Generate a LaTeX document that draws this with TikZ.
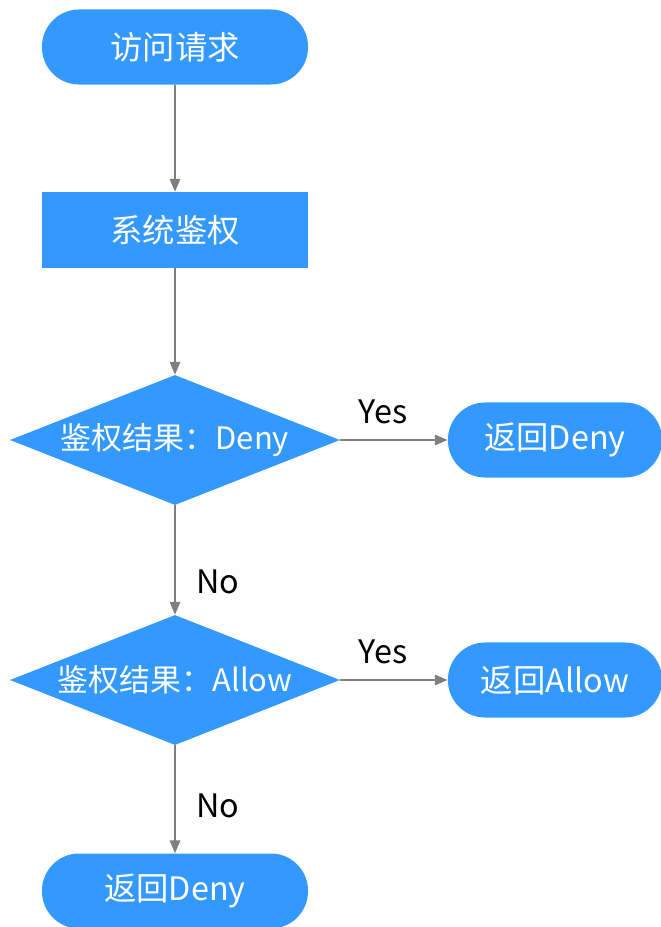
\documentclass[tikz,border=0pt]{standalone}
\usepackage{fontspec}
\setmainfont{Noto Sans CJK SC}
\usetikzlibrary{arrows.meta,positioning,shapes.geometric}
\definecolor{flowblue}{HTML}{3399FF}
\definecolor{flowgray}{HTML}{7F7F7F}
\tikzset{
terminal/.style={
  rectangle,
  rounded corners=0.93cm,
  fill=flowblue,
  inner sep=0pt,
  minimum width=6.65cm,
  minimum height=1.875cm,
  text=white,
  font=\fontsize{23}{27}\selectfont,
  }
}
\tikzset{
process/.style={
  rectangle,
  fill=flowblue,
  inner sep=0pt,
  minimum width=6.65cm,
  minimum height=1.9cm,
  text=white,
  font=\fontsize{23}{27}\selectfont,
  }
}
\tikzset{
decision/.style={
  diamond,
  fill=flowblue,
  inner sep=0pt,
  minimum width=8.25cm,
  minimum height=3.25cm,
  }
}
\tikzset{
dectext/.style={
  text=white,
  font=\fontsize{22}{26}\selectfont,
  }
}
\tikzset{
flowline/.style={
  line width=1.3pt,
  draw=flowgray,
  -{Triangle[length=0.32cm,width=0.26cm]}
  }
}
\tikzset{
flowlabel/.style={
  text=black,
  font=\fontsize{23}{27}\selectfont,
  }
}

\begin{document}
\begin{tikzpicture}[x=0.025cm,y=-0.025cm]
    \useasboundingbox (0,0) rectangle (661,927);

    % main column
    \node[terminal] (req) at (175,47) {访问请求};
    \node[process] (auth) at (175,230) {系统鉴权};
    \node[decision] (deny) at (175,440) {};
    \node[dectext] (denytxt) at (deny.center) {鉴权结果：Deny};
    \node[decision] (allow) at (175,680) {};
    \node[dectext] (allowtxt) at (allow.center) {鉴权结果：Allow};
    \node[terminal] (retdeny) at (175,891) {返回Deny};

    % right column
    \node[terminal, minimum width=5.35cm] (retdenyr) at (555,440) {返回Deny};
    \node[terminal, minimum width=5.35cm] (retallow) at (555,680) {返回Allow};

    % edges
    \draw[flowline] (req) -- (auth);
    \draw[flowline] (auth) -- (deny);
    \draw[flowline] (deny) -- node[flowlabel, right=0.4cm, pos=0.7] {No} (allow);
    \draw[flowline] (allow) -- node[flowlabel, right=0.4cm, pos=0.56] {No} (retdeny);
    \draw[flowline] (deny.east) -- node[flowlabel, above=0.25cm, pos=0.4] {Yes} (retdenyr.west);
    \draw[flowline] (allow.east) -- node[flowlabel, above=0.25cm, pos=0.4] {Yes} (retallow.west);
\end{tikzpicture}
\end{document}
